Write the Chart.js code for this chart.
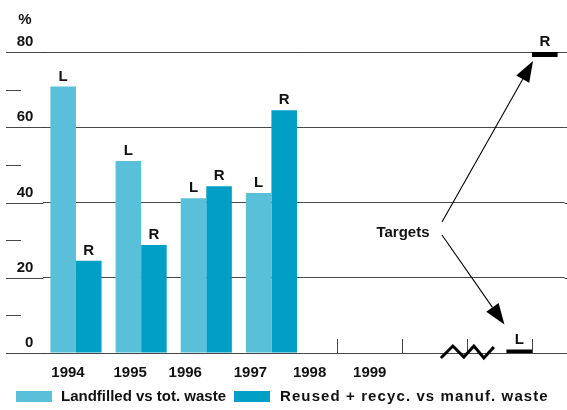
<!DOCTYPE html>
<html lang="en">
<head>
<meta charset="UTF-8">
<title>Waste targets</title>
<script src="https://cdn.jsdelivr.net/npm/chart.js"></script>
<style>
    html, body { margin: 0; padding: 0; background: #fff; }
    #chart { display: block; }
</style>
</head>
<body>
<canvas id="chart" width="567" height="410"></canvas>
<script>
    // categories: six years, one break slot, one target slot
    const years = ['1994', '1995', '1996', '1997', '1998', '1999', '', ''];
    const landfilled = [70.8, 51, 41.1, 42.5, null, null, null];
    const recycled = [24.5, 28.7, 44.3, 64.5, null, null, null];
    // target marks drawn as thin floating bars
    const targetLandfilled = [-0.2, 0.9];
    const targetRecycled = [78.7, 80];
    const yMajor = [0, 20, 40, 60, 80];
    const seriesNames = ['Landfilled vs tot. waste', 'Reused + recyc. vs manuf. waste'];
    const seriesLetters = ['L', 'R'];

    const LIGHT = '#5abfd9';
    const DARK = '#019fc6';
    const FONT = '"Liberation Sans", Arial, sans-serif';
    const yearShift = [-8, -11, -21, -21, -27, -32]; // year labels sit left of the bars
    const TARGET = years.length - 1;

    const extras = {
        id: 'extras',
        beforeDatasetsDraw(chart) {
            const c = chart.ctx, x = chart.scales.x, a = chart.chartArea;
            c.save();
            c.strokeStyle = '#444';
            c.lineWidth = 1;
            years.forEach((_, i) => {
                if (landfilled[i] != null) return; // hidden behind the bars anyway
                const px = Math.round(x.getPixelForValue(i)) + 0.5;
                c.beginPath();
                c.moveTo(px, a.bottom);
                c.lineTo(px, a.bottom - 14);
                c.stroke();
            });
            c.restore();
        },
        afterDraw(chart) {
            const c = chart.ctx, x = chart.scales.x, y = chart.scales.y, a = chart.chartArea;
            c.save();

            // grid extensions and minor dashes on the left
            c.strokeStyle = 'rgba(0,0,0,0.72)';
            c.lineWidth = 1;
            for (let v = 0; v <= 80; v += 10) {
                const py = Math.round(y.getPixelForValue(v)) + 0.5;
                c.beginPath();
                if (yMajor.includes(v)) {
                    c.moveTo(6, py); c.lineTo(a.left, py);
                    c.moveTo(a.right, py); c.lineTo(chart.width, py);
                } else {
                    c.moveTo(6, py); c.lineTo(21, py);
                }
                c.stroke();
            }

            c.fillStyle = '#111';
            c.font = 'bold 15px ' + FONT;
            c.textAlign = 'center';
            c.textBaseline = 'middle';
            c.fillText('%', 25, 20);

            // year labels
            years.forEach((lab, i) => {
                if (!lab) return;
                c.fillText(lab, x.getPixelForValue(i) + yearShift[i], 373);
            });

            // L / R over each bar
            c.textBaseline = 'alphabetic';
            const rTarget = chart.getDatasetMeta(1).data[TARGET];
            const lTarget = chart.getDatasetMeta(0).data[TARGET];
            chart.data.datasets.forEach((ds, di) => {
                chart.getDatasetMeta(di).data.forEach((el, i) => {
                    if (ds.data[i] == null) return;
                    const top = Math.min(el.y, el.base);
                    c.fillText(seriesLetters[di], el.x, top - 6);
                });
            });

            // break zigzag
            const zx = x.getPixelForValue(TARGET - 1), zy = a.bottom;
            c.strokeStyle = '#000';
            c.lineWidth = 3;
            c.lineJoin = 'miter';
            c.beginPath();
            c.moveTo(zx - 26, zy + 5);
            c.lineTo(zx - 14, zy - 7);
            c.lineTo(zx - 3, zy + 4);
            c.lineTo(zx + 7, zy - 7);
            c.lineTo(zx + 17, zy + 5);
            c.lineTo(zx + 27, zy - 6);
            c.stroke();

            // Targets annotation
            c.fillText('Targets', 403, 237);
            const arrow = (x0, y0, x1, y1) => {
                c.strokeStyle = '#000';
                c.lineWidth = 1.1;
                const ang = Math.atan2(y1 - y0, x1 - x0);
                const hl = 21, hw = 7.5;
                const bx = x1 - hl * Math.cos(ang), by = y1 - hl * Math.sin(ang);
                c.beginPath();
                c.moveTo(x0, y0); c.lineTo(bx, by);
                c.stroke();
                c.beginPath();
                c.moveTo(x1, y1);
                c.lineTo(bx + hw * Math.sin(ang), by - hw * Math.cos(ang));
                c.lineTo(bx - hw * Math.sin(ang), by + hw * Math.cos(ang));
                c.closePath();
                c.fill();
            };
            c.fillStyle = '#000';
            arrow(442, 222, rTarget.x - rTarget.width / 2 + 1, rTarget.base + 4);
            arrow(442, 235, lTarget.x - lTarget.width / 2 - 2, lTarget.y - 25);

            // legend
            c.font = 'bold 15px ' + FONT;
            c.textAlign = 'left';
            c.textBaseline = 'middle';
            [[16, 61, LIGHT, '0px'], [234, 280, DARK, '1.1px']].forEach(([bx, tx, col, sp], i) => {
                c.fillStyle = col;
                c.fillRect(bx, 391, 36, 11);
                c.fillStyle = '#111';
                c.letterSpacing = sp;
                c.fillText(seriesNames[i], tx, 397);
            });
            c.letterSpacing = '0px';
            c.restore();
        }
    };

    new Chart(document.getElementById('chart'), {
        type: 'bar',
        data: {
            labels: years,
            datasets: [
                {
                    label: seriesNames[0],
                    data: landfilled.concat([targetLandfilled]),
                    backgroundColor: ctx => ctx.dataIndex === TARGET ? '#000' : LIGHT
                },
                {
                    label: seriesNames[1],
                    data: recycled.concat([targetRecycled]),
                    backgroundColor: ctx => ctx.dataIndex === TARGET ? '#000' : DARK
                }
            ]
        },
        options: {
            responsive: false,
            animation: false,
            devicePixelRatio: 1,
            layout: { padding: { top: 52, right: 2.4, bottom: 57, left: 0 } },
            datasets: { bar: { barPercentage: 1, categoryPercentage: 0.785, borderWidth: 0 } },
            plugins: { legend: { display: false }, tooltip: { enabled: false } },
            scales: {
                x: { display: false },
                y: {
                    min: 0, max: 80,
                    z: 1,
                    afterFit: s => { s.width = 43.4; },
                    border: { display: false },
                    grid: {
                        drawTicks: false,
                        color: ctx => ctx.tick && ctx.tick.value % 20 === 0 ? 'rgba(0,0,0,0.72)' : 'rgba(0,0,0,0)'
                    },
                    ticks: {
                        stepSize: 10,
                        padding: 10,
                        labelOffset: -10,
                        color: '#111',
                        font: { family: FONT, size: 15, weight: 'bold' },
                        callback: v => v % 20 === 0 ? v : ''
                    }
                }
            }
        },
        plugins: [extras]
    });
</script>
</body>
</html>
